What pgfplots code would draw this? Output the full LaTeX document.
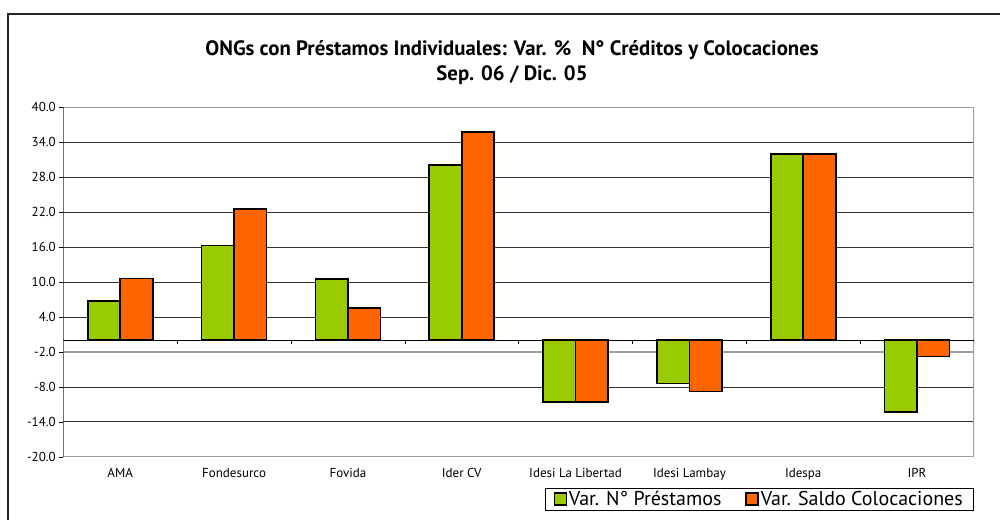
\documentclass[border=0pt]{standalone}
\usepackage{fontspec}
\setmainfont{PT Sans}
\usepackage{pgfplots}
\pgfplotsset{compat=1.18}
\definecolor{cgreen}{HTML}{99CC00}
\definecolor{corange}{HTML}{FF6600}
\begin{document}
\begin{tikzpicture}[x=1pt,y=1pt]
\useasboundingbox (0,0) rectangle (1000,519);
\draw[line width=1.5pt, black!85] (8,-2) -- (8,505) -- (1002,505);
\node[font=\bfseries\fontsize{20.8}{25}\selectfont, align=center] at (512,456)
  {ONGs con Préstamos Individuales: Var. \%\ \ N° Créditos y Colocaciones\\Sep. 06 / Dic. 05};
\begin{axis}[
  at={(63.3pt,62.3pt)}, anchor=south west,
  scale only axis, width=910.7pt, height=349.4pt,
  ymin=-20, ymax=40, ytick={-20,-14,...,40},
  xmin=-0.5, xmax=7.5, xtick={0,...,7},
  xticklabels={AMA,Fondesurco,Fovida,Ider CV,Idesi La Libertad,Idesi Lambay,Idespa,IPR},
  xtick style={draw=none},
  ytick style={black, thin}, ytick pos=left,
  tick align=outside, major tick length=4pt,
  axis line style={draw=none},
  ymajorgrids, grid style={black!80, line width=0.6pt},
  yticklabel style={/pgf/number format/.cd, fixed, fixed zerofill, precision=1, assume math mode=true},
  ticklabel style={font=\fontsize{13}{15}\selectfont},
  xticklabel style={yshift=-4pt},
  ybar=0pt, bar width=32.5pt,
  legend style={at={(1,0)}, anchor=north east, yshift=-31pt, xshift=-1pt, legend columns=2, draw=black, thin,
    font=\fontsize{20}{22}\selectfont, inner xsep=8pt, inner ysep=1pt,
    /tikz/every even column/.append style={column sep=22pt}},
  legend image code/.code={\draw[#1, line width=1.3pt] (0pt,-6pt) rectangle (12pt,6pt);},
]
\draw[gray!75, line width=1.8pt] (axis cs:-0.5,-2) -- (axis cs:7.5,-2);
\draw[gray!75, line width=1.8pt] (rel axis cs:0,1) -- (rel axis cs:1,1) -- (rel axis cs:1,0) -- (rel axis cs:0,0);
\draw[black!85, line width=0.8pt] (rel axis cs:0,0) -- (rel axis cs:0,1);
\draw[black, line width=1pt] (axis cs:-0.5,0) -- (axis cs:7.5,0);
\pgfplotsinvokeforeach{0.5,1.5,2.5,3.5,4.5,5.5,6.5,7.5}{\draw[black, thin] (axis cs:#1,0) -- ([yshift=-4pt]axis cs:#1,0);}
\addplot[fill=cgreen, draw=black, line width=1.6pt] coordinates {
 (0,6.7) (1,16.3) (2,10.5) (3,30.1) (4,-10.6) (5,-7.4) (6,32.0) (7,-12.3)};
\addlegendentry{Var. N° Préstamos}
\addplot[fill=corange, draw=black, line width=1.6pt] coordinates {
 (0,10.6) (1,22.5) (2,5.5) (3,35.8) (4,-10.6) (5,-8.8) (6,32.0) (7,-2.8)};
\addlegendentry{Var. Saldo Colocaciones}
\end{axis}
\end{tikzpicture}
\end{document}
